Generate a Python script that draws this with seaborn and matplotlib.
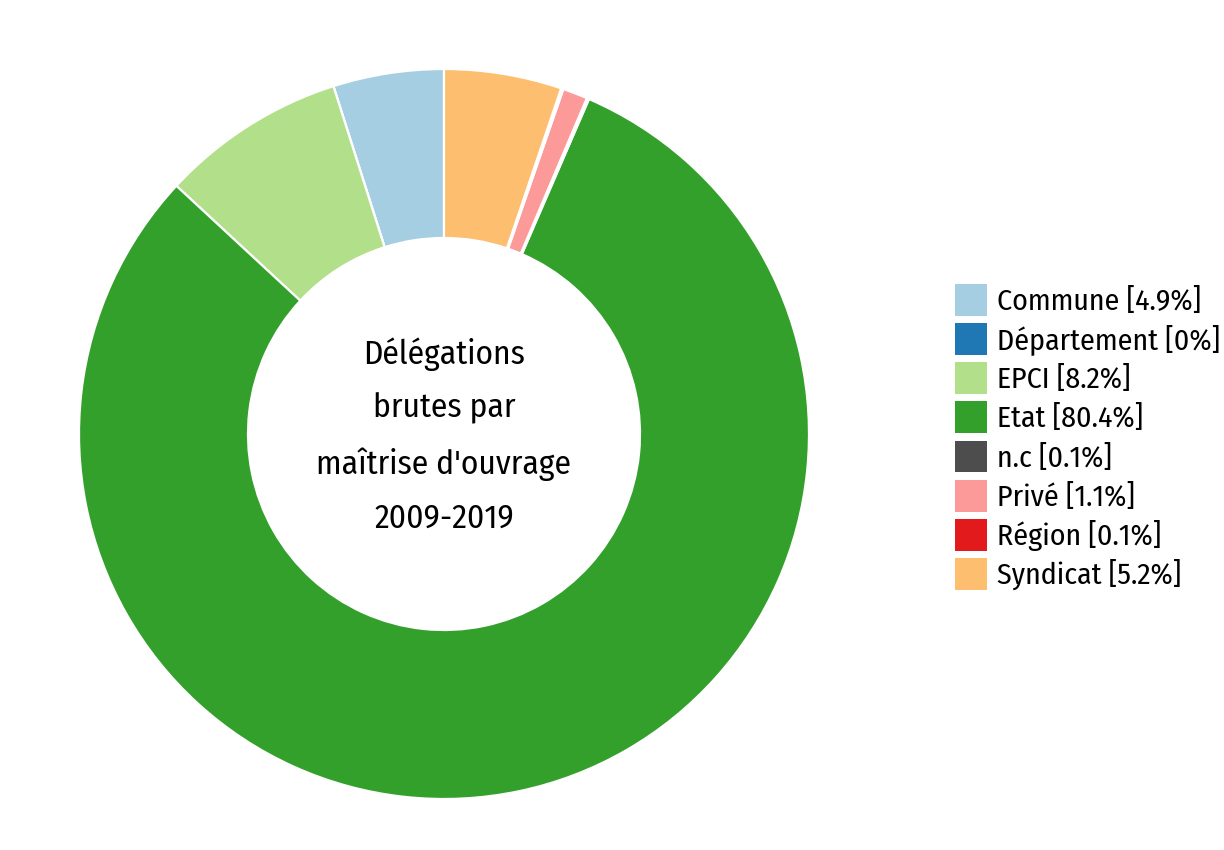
import matplotlib
matplotlib.use("Agg")
import matplotlib.pyplot as plt
import seaborn as sns
from matplotlib.patches import Patch

categories = ["Commune", "Département", "EPCI", "Etat", "n.c", "Privé", "Région", "Syndicat"]
values = [4.9, 0.0, 8.2, 80.4, 0.1, 1.1, 0.1, 5.2]
labels_pct = ["4.9%", "0%", "8.2%", "80.4%", "0.1%", "1.1%", "0.1%", "5.2%"]
colors = ["#a6cee3", "#1f78b4", "#b2df8a", "#33a02c", "#4d4d4d", "#fb9a99", "#e31a1c", "#fdbf6f"]
center_text = "Délégations\nbrutes par\nmaîtrise d'ouvrage\n2009-2019"

sns.set_theme(style="white")
plt.rcParams['font.family'] = ['Fira Sans Condensed', 'DejaVu Sans']

fig = plt.figure(figsize=(12.24, 8.5), dpi=100)
fig.patch.set_facecolor("white")
ax = fig.add_axes([79 / 1224, 51 / 850, 730 / 1224, 730 / 850])

ax.pie(values, colors=colors, startangle=90, counterclock=True,
       wedgeprops=dict(width=0.463, edgecolor="white", linewidth=1.6))
ax.set_xlim(-1, 1)
ax.set_ylim(-1, 1)
ax.set_aspect("equal")
ax.axis("off")

ax.text(0, -0.005, center_text, ha="center", va="center", fontsize=24,
        linespacing=1.86, color="#000000")

handles = [Patch(facecolor=c, edgecolor="none") for c in colors]
leg_labels = [f"{c} [{p}]" for c, p in zip(categories, labels_pct)]
leg = fig.legend(handles, leg_labels, loc="upper left",
           bbox_to_anchor=(955 / 1224, 1 - 284 / 850), frameon=False,
           fontsize=21.5, handlelength=1.07, handleheight=1.27,
           labelspacing=0.24, handletextpad=0.33, borderpad=0, borderaxespad=0)
for t in leg.get_texts():
    t.set_color("#000000")

fig.savefig("out.png", dpi=100, facecolor="white")
